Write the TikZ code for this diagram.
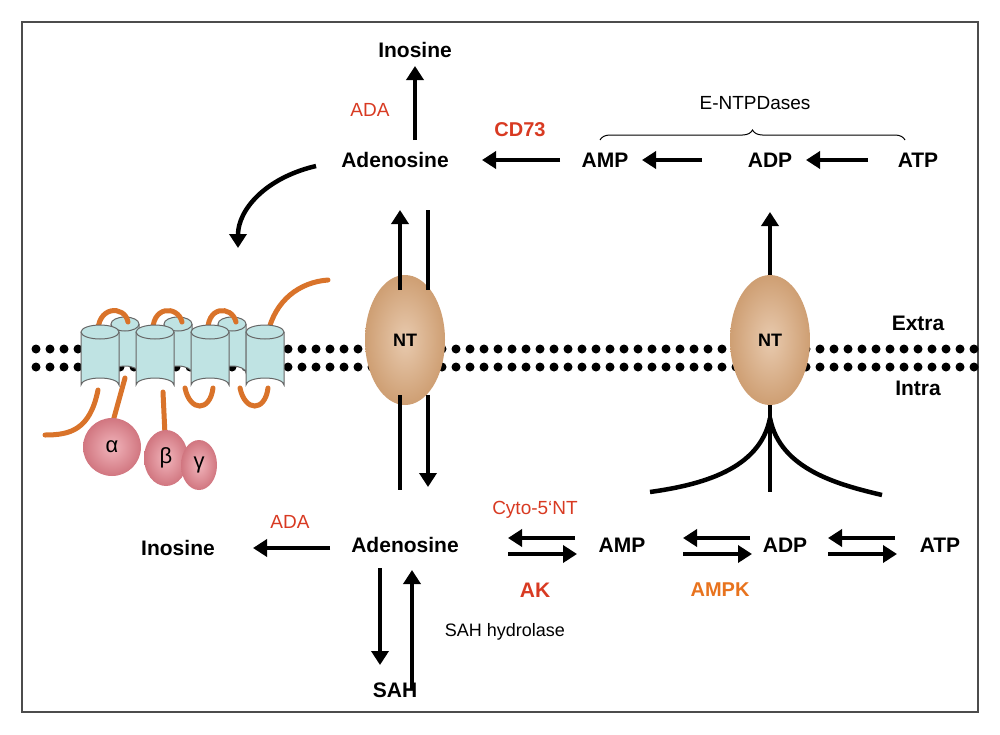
\documentclass[tikz,border=0pt]{standalone}
\usepackage{fontspec}
\setmainfont{Liberation Sans}
\usetikzlibrary{arrows.meta,decorations.pathreplacing,shapes.geometric}
\definecolor{red1}{HTML}{D83A22}
\definecolor{org}{HTML}{E8731E}
\definecolor{strand}{HTML}{D9732A}
\definecolor{cyl}{HTML}{BFE3E3}
\definecolor{nt}{HTML}{D9A779}
\definecolor{pink}{HTML}{E8838E}
\begin{document}
\begin{tikzpicture}[x=1pt,y=-1pt,
  lb/.style={font=\bfseries\fontsize{21}{21}\selectfont},
  en/.style={font=\fontsize{19}{19}\selectfont,text=red1},
  ar/.style={line width=4.5pt,-{Triangle[length=14pt,width=17pt]}},
  ln/.style={line width=4.5pt},
  ntn/.style={ellipse,minimum width=80pt,minimum height=130pt,inner color=nt!60,outer color=nt!95!black,font=\bfseries\fontsize{18}{18}\selectfont},
  st/.style={strand,line width=5pt,line cap=round},
  cy/.style={fill=cyl,draw=black!60,line width=1pt}]
\useasboundingbox (0,0) rectangle (1000,734);
\draw[black!70,line width=1.2pt] (22,22) rectangle (978,712);
% membrane
\foreach \yy in {349,367}{\foreach \xx in {36,50,...,976}{\fill (\xx,\yy) circle (4.5pt);}}
% receptor
\newcommand{\cyld}[4]{% x center, halfwidth, top, bottom
 \draw[cy] (#1-#2,#3) -- (#1-#2,#4) arc[start angle=180,end angle=360,x radius=#2,y radius=7] -- (#1+#2,#3);
 \draw[cy] (#1,#3) ellipse[x radius=#2,y radius=7];}
\foreach \c in {125,178,232}{\cyld{\c}{14}{324}{373}}
\draw[st] (98,335) .. controls (96,305) and (125,305) .. (128,322);
\draw[st] (153,335) .. controls (150,305) and (178,305) .. (182,322);
\draw[st] (208,335) .. controls (205,305) and (232,305) .. (236,322);
\draw[st] (268,333) .. controls (275,300) and (300,282) .. (328,280);
\draw[st] (98,390) .. controls (90,430) and (70,435) .. (45,435);
\draw[st] (125,378) -- (112,425);
\draw[st] (163,392) -- (165,435);
\draw[st] (185,388) .. controls (190,412) and (210,412) .. (213,388);
\draw[st] (240,388) .. controls (245,412) and (265,412) .. (268,388);
\foreach \c in {100,155,210,265}{\cyld{\c}{19}{332}{385}}
\node[circle,minimum size=58pt,inner color=pink!60,outer color=pink!90!black,font=\fontsize{22}{22}\selectfont] (al) at (112,447) {α};
\node[ellipse,minimum width=44pt,minimum height=56pt,inner color=pink!60,outer color=pink!90!black,font=\fontsize{22}{22}\selectfont] (be) at (166,458) {β};
\node[ellipse,minimum width=36pt,minimum height=50pt,inner color=pink!60,outer color=pink!90!black,font=\fontsize{22}{22}\selectfont] (ga) at (199,465) {γ};
% NT
\node[ntn] (nt1) at (405,340) {NT};
\node[ntn] (nt2) at (770,340) {NT};
\node[lb] (ex) at (918,323) {Extra};
\node[lb] (in) at (918,388) {Intra};
% top
\node[lb] (ino1) at (415,50) {Inosine};
\node[lb] (ado1) at (395,160) {Adenosine};
\node[lb] (amp1) at (605,160) {AMP};
\node[lb] (adp1) at (770,160) {ADP};
\node[lb] (atp1) at (918,160) {ATP};
\node[en] at (370,110) {ADA};
\node[en,font=\bfseries\fontsize{20}{20}\selectfont] at (520,130) {CD73};
\node[font=\fontsize{19}{19}\selectfont] (ent) at (755,103) {E-NTPDases};
\draw[decorate,decoration={brace,amplitude=10pt},line width=1pt] (600,140) -- (905,140);
\draw[ar] (415,140) -- (415,66);
\draw[ar] (560,160) -- (482,160);
\draw[ar] (702,160) -- (642,160);
\draw[ar] (868,160) -- (806,160);
\coordinate (cs) at (316,166); \coordinate (ce) at (238,248);
\draw[ar] (cs) .. controls (265,178) and (238,210) .. (ce);
\draw[ar] (400,290) -- (400,210);
\draw[ln] (428,210) -- (428,290);
\draw[ln] (400,395) -- (400,490);
\draw[ar] (428,395) -- (428,487);
\draw[ar] (nt2.north) -- (770,212);
\draw[ln] (770,405) -- (770,492);
\draw[ln] (770,418) .. controls (760,470) and (700,485) .. (650,492);
\draw[ln] (770,418) .. controls (780,470) and (840,485) .. (882,495);
% bottom
\node[lb] (ino2) at (178,548) {Inosine};
\node[lb] (ado2) at (405,545) {Adenosine};
\node[lb] (amp2) at (622,545) {AMP};
\node[lb] (adp2) at (785,545) {ADP};
\node[lb] (atp2) at (940,545) {ATP};
\node[lb] (sah) at (395,690) {SAH};
\node[en] at (290,522) {ADA};
\node[en] at (535,510) {Cyto-5‘NT};
\node[en,font=\bfseries\fontsize{21}{21}\selectfont] at (535,590) {AK};
\node[en,text=org,font=\bfseries\fontsize{20}{20}\selectfont] at (720,590) {AMPK};
\node[font=\fontsize{18}{18}\selectfont] at (505,632) {SAH hydrolase};
\draw[ar] (330,548) -- (253,548);
\draw[ar] (575,538) -- (508,538);
\draw[ar] (508,554) -- (577,554);
\draw[ar] (750,538) -- (683,538);
\draw[ar] (683,554) -- (752,554);
\draw[ar] (895,538) -- (828,538);
\draw[ar] (828,554) -- (897,554);
\draw[ar] (380,568) -- (380,665);
\draw[ar] (412,690) -- (412,570);
\end{tikzpicture}
\end{document}
